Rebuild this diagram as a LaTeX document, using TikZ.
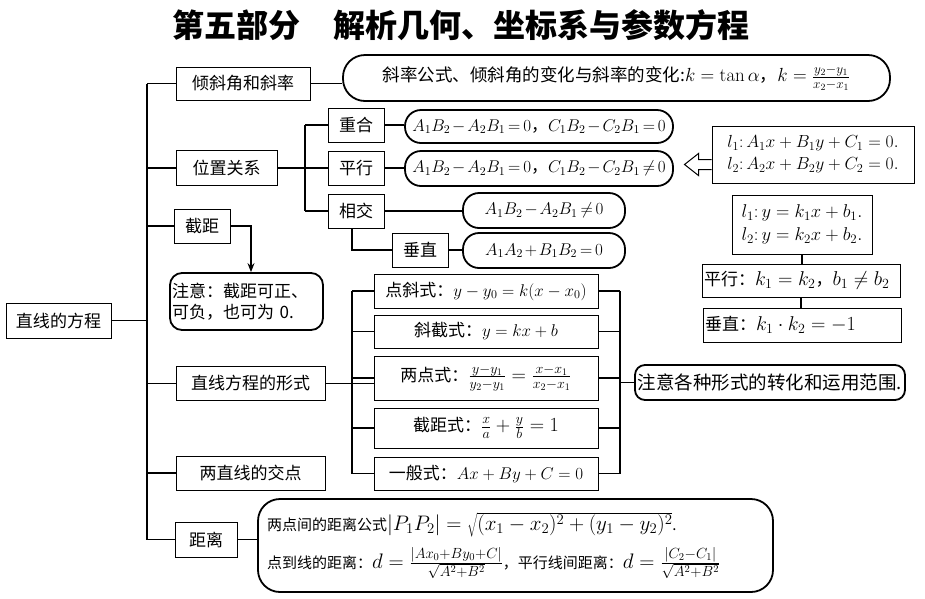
\RequirePackage{fix-cm}
\documentclass[tikz,border=0pt]{standalone}
\usepackage[no-math]{fontspec}
\setmainfont{Noto Sans CJK SC}
\usetikzlibrary{arrows.meta}
\newcommand\mm[2]{{\fontsize{#1}{#1}\selectfont$#2$}}
\newcommand\tmath[1]{$\medmuskip=2mu\thickmuskip=3mu #1$}
\tikzset{
  bx/.style={draw, line width=1pt, inner sep=0pt, align=center, font=\fontsize{17}{21}\selectfont},
  rb/.style={draw, line width=1.8pt, rounded corners=#1, inner sep=0pt, align=center, font=\fontsize{17}{21}\selectfont},
  conn/.style={line width=1.3pt},
}
\begin{document}
\begin{tikzpicture}[x=1pt,y=-1pt]
\useasboundingbox (0,0) rectangle (925,598);
% title
\node[font=\fontsize{32}{36}\selectfont\bfseries] (title) at (461,25) {第五部分\hspace{34pt}解析几何、坐标系与参数方程};
% root and first level
\node[bx, minimum width=105pt, minimum height=35pt] (root) at (58.5,320.5) {直线的方程};
\node[bx, minimum width=134pt, minimum height=33pt] (qx) at (243,83.5) {倾斜角和斜率};
\node[bx, minimum width=101pt, minimum height=35pt] (wz) at (226.5,168) {位置关系};
\node[bx, minimum width=56pt, minimum height=34pt] (jj) at (202,226) {截距};
\node[bx, minimum width=149pt, minimum height=34pt] (fs) at (250.5,383.5) {直线方程的形式};
\node[bx, minimum width=149pt, minimum height=34pt] (jd) at (250.5,473) {两直线的交点};
\node[bx, minimum width=62pt, minimum height=35pt] (jl) at (206,539.5) {距离};
% slope formula
\node[rb=22pt, minimum width=547pt, minimum height=46pt, font=\fontsize{17.5}{21}\selectfont] (qxf) at (616.5,78) {斜率公式、倾斜角的变化与斜率的变化:\mm{19}{k = \tan\alpha}，\mm{19}{k=\frac{y_2-y_1}{x_2-x_1}}};
% position relations
\node[bx, minimum width=56pt, minimum height=34pt] (ch) at (356,125) {重合};
\node[bx, minimum width=56pt, minimum height=34pt] (px) at (356,168) {平行};
\node[bx, minimum width=56pt, minimum height=34pt] (xj) at (356,211) {相交};
\node[bx, minimum width=56pt, minimum height=34pt] (cz) at (420,250) {垂直};
\node[rb=16pt, minimum width=268pt, minimum height=33pt] (fch) at (539,126.5) {\tmath{A_1B_2-A_2B_1=0}，\tmath{C_1B_2-C_2B_1=0}};
\node[rb=16pt, minimum width=268pt, minimum height=35pt] (fpx) at (539,168.5) {\tmath{A_1B_2-A_2B_1=0}，\tmath{C_1B_2-C_2B_1\neq0}};
\node[rb=16pt, minimum width=162pt, minimum height=35pt] (fxj) at (544,210.5) {\tmath{A_1B_2-A_2B_1\neq0}};
\node[rb=16pt, minimum width=162pt, minimum height=35pt] (fcz) at (544,250.5) {\tmath{A_1A_2+B_1B_2=0}};
% right side boxes
\node[bx, minimum width=202pt, minimum height=57pt, font=\fontsize{17.5}{22}\selectfont] (l12) at (813,154.5) {$l_1\colon A_1x+B_1y+C_1=0.$\\$l_2\colon A_2x+B_2y+C_2=0.$};
\node[bx, minimum width=140pt, minimum height=59pt, font=\fontsize{18.5}{23}\selectfont] (lk) at (802,224.5) {$l_1\colon y=k_1x+b_1.$\\$l_2\colon y=k_2x+b_2.$};
\node[bx, align=left, text width=194pt, inner xsep=2pt, minimum height=33pt] (pxk) at (801,280.5) {平行：\mm{20}{k_1=k_2}，\mm{20}{b_1\neq b_2}};
\node[bx, align=left, text width=194pt, inner xsep=2pt, minimum height=34pt] (czk) at (802,325) {垂直：\mm{20}{k_1\cdot k_2=-1}};
% intercept note
\node[rb=12pt, align=left, text width=149pt, inner xsep=2pt, minimum height=57pt] (zy) at (246.5,301.5) {注意：截距可正、\\可负，也可为 0.};
% forms
\node[bx, minimum width=224pt, minimum height=34pt] (ds) at (486,291) {点斜式：$y-y_0=k(x-x_0)$};
\node[bx, minimum width=224pt, minimum height=33pt] (xjs) at (486,331.5) {斜截式：$y=kx+b$};
\node[bx, minimum width=224pt, minimum height=44pt] (ld) at (486,378) {两点式：\mm{20}{\frac{y-y_1}{y_2-y_1}=\frac{x-x_1}{x_2-x_1}}};
\node[bx, minimum width=224pt, minimum height=40pt] (jjs) at (486,428) {截距式：\mm{20}{\frac{x}{a}+\frac{y}{b}=1}};
\node[bx, minimum width=224pt, minimum height=33pt] (yb) at (486,473.5) {一般式：$Ax+By+C=0$};
\node[rb=10pt, minimum width=270pt, minimum height=35pt, font=\fontsize{18.5}{22}\selectfont] (zysx) at (770,382.5) {注意各种形式的转化和运用范围.};
% distance
\node[rb=22pt, align=left, text width=497pt, inner xsep=9pt, minimum height=93pt, font=\fontsize{15}{19}\selectfont] (jlf) at (515.5,545.5) {两点间的距离公式\mm{21}{|P_1P_2| = \sqrt{(x_1-x_2)^2+(y_1-y_2)^2}}.\\[10pt]点到线的距离：\mm{21}{d=\frac{|Ax_0+By_0+C|}{\sqrt{A^2+B^2}}}，平行线间距离：\mm{21}{d=\frac{|C_2-C_1|}{\sqrt{A^2+B^2}}}};
% coordinates for branch lines
\coordinate (trk) at (147,0);
\coordinate (bw) at (305,0);
\coordinate (bf) at (352,0);
\coordinate (br) at (620,0);
% trunk
\draw[conn] (qx.west -| trk) -- (jl.west -| trk);
\draw[conn] (root.east) -- (root.east -| trk);
\foreach \n in {qx,wz,jj,fs,jd,jl} \draw[conn] (\n.west -| trk) -- (\n.west);
% slope
\draw[conn] (qx.east) -- (qx.east -| qxf.west);
% position
\draw[conn] (wz.east) -- (px.west);
\draw[conn] (ch.west -| bw) -- (xj.west -| bw);
\draw[conn] (ch.west -| bw) -- (ch.west);
\draw[conn] (xj.west -| bw) -- (xj.west);
\draw[conn] (ch.east) -- (ch.east -| fch.west);
\draw[conn] (px.east) -- (px.east -| fpx.west);
\draw[conn] (xj.east) -- (xj.east -| fxj.west);
\draw[conn] (cz.east) -- (cz.east -| fcz.west);
\draw[conn] ([xshift=-4pt]xj.south) |- (cz.west);
% hollow arrow
\draw[line width=1pt, fill=white] ([yshift=-5pt]l12.west) -- ++(-13,0) -- ++(0,-6) -- ++(-14,11) -- ++(14,11) -- ++(0,-6) -- ++(13,0);
% right chain
\draw[conn] (lk.south) -- (lk.south |- pxk.north);
\draw[conn] (pxk.south) -- (pxk.south |- czk.north);
% intercept arrow
\draw[conn, -{Stealth[length=9pt,width=7pt]}] (jj.east) -| ([xshift=4.5pt]zy.north);
% forms
\draw[conn] (fs.east) -- (fs.east -| ld.west);
\draw[conn] (ds.west -| bf) -- (yb.west -| bf);
\draw[conn] (ds.east -| br) -- (yb.east -| br);
\foreach \n in {ds,xjs,ld,jjs,yb} {
  \draw[conn] (\n.west -| bf) -- (\n.west);
  \draw[conn] (\n.east) -- (\n.east -| br);
}
\draw[conn] (zysx.west -| br) -- (zysx.west);
% distance
\draw[conn] (jl.east) -- (jl.east -| jlf.west);
\end{tikzpicture}
\end{document}
